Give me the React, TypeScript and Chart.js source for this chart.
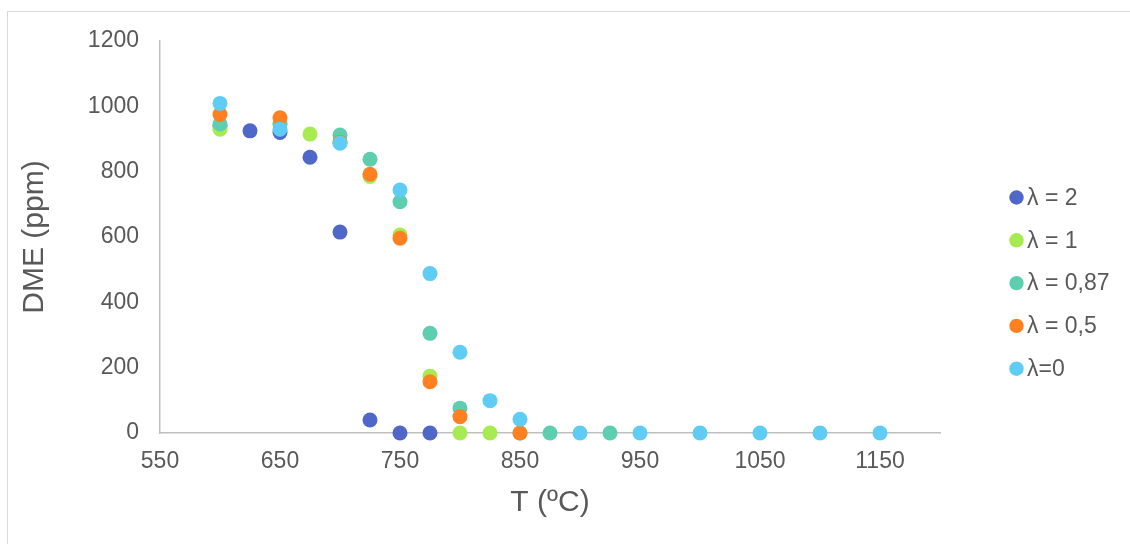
import { useEffect, useRef } from "react";
import { Chart, registerables } from "chart.js";

Chart.register(...registerables);

const seriesLabels = ["λ = 2", "λ = 1", "λ = 0,87", "λ = 0,5", "λ=0"];
const seriesColors = ["#4E67C8", "#A7EA52", "#5DCEAF", "#FF8021", "#5ECCF3"];

const tLambda2 = [600, 625, 650, 675, 700, 725, 750, 775];
const dmeLambda2 = [940, 925, 920, 844, 615, 40, 0, 0];

const tLambda1 = [600, 650, 675, 700, 725, 750, 775, 800, 825];
const dmeLambda1 = [930, 945, 915, 893, 785, 606, 174, 0, 0];

const tLambda087 = [600, 650, 700, 725, 750, 775, 800, 850, 875, 925];
const dmeLambda087 = [946, 948, 912, 838, 708, 305, 76, 0, 0, 0];

const tLambda05 = [600, 650, 700, 725, 750, 775, 800, 850];
const dmeLambda05 = [975, 965, 890, 792, 596, 157, 50, 0];

const tLambda0 = [600, 650, 700, 750, 775, 800, 825, 850, 900, 950, 1000, 1050, 1100, 1150];
const dmeLambda0 = [1009, 930, 887, 744, 488, 247, 99, 42, 0, 0, 0, 0, 0, 0];

const xTickValues = [550, 650, 750, 850, 950, 1050, 1150];
const yTickValues = [0, 200, 400, 600, 800, 1000, 1200];

const FONT = "'Liberation Sans', Arial, sans-serif";
const TEXT = "#595959";

export default function App() {
  const ref = useRef<HTMLCanvasElement>(null);

  useEffect(() => {
    document.body.style.margin = "0";
    const xs = [tLambda2, tLambda1, tLambda087, tLambda05, tLambda0];
    const ys = [dmeLambda2, dmeLambda1, dmeLambda087, dmeLambda05, dmeLambda0];
    const datasets = seriesLabels.map((label, i) => ({
      label,
      data: xs[i].map((x, j) => ({ x, y: ys[i][j] })),
      backgroundColor: seriesColors[i],
      borderColor: seriesColors[i],
      borderWidth: 0,
      pointRadius: 7.5,
      pointHoverRadius: 7.5,
      order: seriesLabels.length - i,
      clip: false as const,
    }));

    const frame = {
      id: "frame",
      beforeDraw(chart: any) {
        const { ctx, width, height } = chart;
        ctx.save();
        ctx.fillStyle = "#ffffff";
        ctx.fillRect(0, 0, width, height);
        ctx.strokeStyle = "#d9d9d9";
        ctx.lineWidth = 1;
        ctx.strokeRect(7.5, 11.5, width + 20, height + 20);
        ctx.restore();
      },
    };

    const legend = {
      id: "sideLegend",
      afterDraw(chart: any) {
        const { ctx } = chart;
        ctx.save();
        ctx.font = `23px ${FONT}`;
        ctx.textBaseline = "middle";
        ctx.textAlign = "left";
        seriesLabels.forEach((label, i) => {
          const y = 197.5 + i * 42.8;
          ctx.fillStyle = seriesColors[i];
          ctx.beginPath();
          ctx.arc(1016.5, y, 7.2, 0, Math.PI * 2);
          ctx.fill();
          ctx.fillStyle = TEXT;
          ctx.fillText(label, 1027, y + 1);
        });
        ctx.restore();
      },
    };

    const chart = new Chart(ref.current as HTMLCanvasElement, {
      type: "scatter",
      data: { datasets },
      plugins: [frame, legend],
      options: {
        animation: false,
        responsive: false,
        devicePixelRatio: 1,
        events: [],
        layout: { padding: { left: 0, right: 190, top: 41, bottom: 0 } },
        plugins: { legend: { display: false }, tooltip: { enabled: false } },
        scales: {
          x: {
            type: "linear",
            position: "bottom",
            min: 550,
            max: 1200,
            afterBuildTicks: (s: any) => {
              s.ticks = xTickValues.map((value) => ({ value }));
            },
            afterFit: (s: any) => {
              s.height = 111;
            },
            ticks: {
              font: { size: 23, family: FONT },
              color: TEXT,
              padding: 15,
              maxRotation: 0,
              callback: (v: any) => String(v),
            },
            grid: { display: false, drawTicks: false },
            border: { display: true, color: "#bfbfbf", width: 1.5 },
            title: {
              display: true,
              text: "T (ºC)",
              color: TEXT,
              font: { size: 30, family: FONT },
              padding: { top: 0, bottom: 23 },
            },
          },
          y: {
            type: "linear",
            min: 0,
            max: 1200,
            afterBuildTicks: (s: any) => {
              s.ticks = yTickValues.map((value) => ({ value }));
            },
            afterFit: (s: any) => {
              s.width = 160;
            },
            ticks: {
              font: { size: 23, family: FONT },
              color: TEXT,
              padding: 21,
              callback: (v: any) => String(v),
            },
            grid: { display: false, drawTicks: false },
            border: { display: true, color: "#bfbfbf", width: 1.5 },
            title: {
              display: true,
              text: "DME (ppm)",
              color: TEXT,
              font: { size: 30, family: FONT },
              padding: { top: 17, bottom: 0 },
            },
          },
        },
      } as any,
    });
    return () => chart.destroy();
  }, []);

  return (
    <div style={{ width: 1130, height: 544, position: "relative", overflow: "hidden" }}>
      <canvas ref={ref} width={1130} height={544} style={{ display: "block", width: 1130, height: 544 }} />
    </div>
  );
}
